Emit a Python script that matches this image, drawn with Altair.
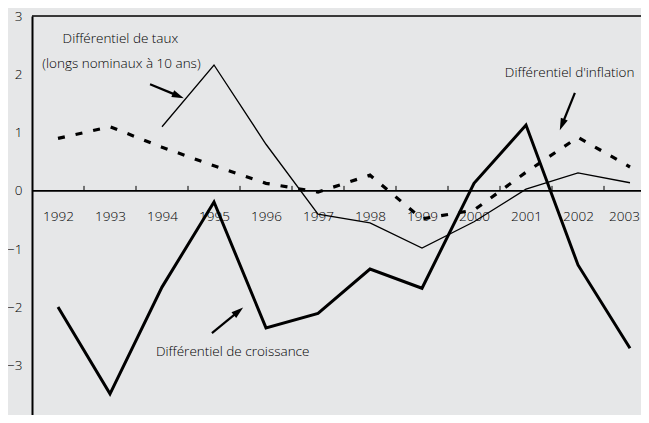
import math
import altair as alt
import pandas as pd

# ---------------- data ----------------
years = list(range(1992, 2004))
croissance = [-1.99, -3.48, -1.65, -0.19, -2.35, -2.10, -1.34, -1.67, 0.13, 1.13, -1.27, -2.70]
inflation = [0.90, 1.10, 0.75, 0.43, 0.13, -0.02, 0.27, -0.48, -0.33, 0.32, 0.92, 0.41]
taux = [None, None, 1.10, 2.16, 0.80, -0.40, -0.55, -0.98, -0.53, 0.03, 0.31, 0.14]
y_ticks = list(range(-4, 4))

label_text = ["Différentiel de taux", "(longs nominaux à 10 ans)",
              "Différentiel d'inflation", "Différentiel de croissance"]
label_x = [1993.20, 1993.22, 2001.84, 1995.36]
label_y = [2.53, 2.11, 1.955, -2.835]

arrow_x1 = [1993.77, 2001.94, 1994.96]
arrow_y1 = [1.83, 1.68, -2.44]
arrow_x2 = [1994.42, 2001.65, 1995.56]
arrow_y2 = [1.59, 1.04, -2.00]

# ---------------- layout ----------------
PX_YR = 52.0
PX_U = 58.3
W, H = 609, 399
FONT = "Open Sans"
FS = 13.5
FW = 300
BG = "#e6e7e8"

x_scale = alt.Scale(domain=[1991.5, 2003.5], range=[0, 12 * PX_YR], nice=False, zero=False)
y_scale = alt.Scale(domain=[-4, 3], range=[7 * PX_U, 0], nice=False, zero=False)
zero_px = 3 * PX_U

def series_df(vals, name):
    return pd.DataFrame({"year": years, "value": vals, "serie": name}).dropna()

df_c = series_df(croissance, "croissance")
df_i = series_df(inflation, "inflation")
df_t = series_df(taux, "taux")

base_x = alt.X("year:Q", scale=x_scale,
               axis=alt.Axis(values=years, format="d", ticks=False, tickSize=0, domain=False,
                             grid=False, title=None, labelPadding=19, labelFontSize=FS,
                             labelFont=FONT, labelFontWeight=FW, labelColor="black",
                             labelOffset={"condition": {"test": "datum.value == 2003", "value": -6},
                                          "value": 0},
                             offset=zero_px - H, labelFlush=False, labelOverlap=False))
base_y = alt.Y("value:Q", scale=y_scale,
               axis=alt.Axis(values=y_ticks, format="d", ticks=False, tickSize=0, domain=True,
                             domainColor="black", domainWidth=2, grid=False, title=None,
                             labelPadding=10, labelFontSize=FS, labelFont=FONT,
                             labelFontWeight=FW, labelColor="black", labelFlush=False,
                             labelOverlap=False))

line_c = alt.Chart(df_c).mark_line(color="black", strokeWidth=3, strokeJoin="miter").encode(
    x=base_x, y=base_y)
line_i = alt.Chart(df_i).mark_line(color="black", strokeWidth=3.2, strokeDash=[7, 11]).encode(
    x=alt.X("year:Q", scale=x_scale), y=alt.Y("value:Q", scale=y_scale))
line_t = alt.Chart(df_t).mark_line(color="black", strokeWidth=1.3).encode(
    x=alt.X("year:Q", scale=x_scale), y=alt.Y("value:Q", scale=y_scale))

# zero line and top border
hlines = pd.DataFrame({"y": [0, 3], "x1": [1991.5, 1991.5], "x2": [2003.5, 2003.5]})
rules_h = alt.Chart(hlines).mark_rule(color="black", strokeWidth=1.6).encode(
    x=alt.X("x1:Q", scale=x_scale), x2="x2:Q", y=alt.Y("y:Q", scale=y_scale))

# ticks at category boundaries (pointing up from the zero line)
bounds = pd.DataFrame({"x": [y + 0.5 for y in years[:-1]]})
bounds["y1"] = 0.0
bounds["y2"] = 5.0 / PX_U
ticks = alt.Chart(bounds).mark_rule(color="black", strokeWidth=1).encode(
    x=alt.X("x:Q", scale=x_scale), y=alt.Y("y1:Q", scale=y_scale), y2="y2:Q")

# annotation texts
df_lab = pd.DataFrame({"x": label_x, "y": label_y, "t": label_text})
texts = alt.Chart(df_lab).mark_text(font=FONT, fontSize=FS, fontWeight=FW, color="black",
                                    align="center", baseline="alphabetic").encode(
    x=alt.X("x:Q", scale=x_scale), y=alt.Y("y:Q", scale=y_scale), text="t:N")

# arrows
rows_l, rows_h = [], []
HEAD = 12.0
for x1, y1, x2, y2 in zip(arrow_x1, arrow_y1, arrow_x2, arrow_y2):
    dx = (x2 - x1) * PX_YR
    dy = -(y2 - y1) * PX_U
    n = math.hypot(dx, dy)
    ux, uy = dx / n, dy / n
    ang = math.degrees(math.atan2(dx, -dy)) % 360
    cx = x2 - (HEAD / 2) * ux / PX_YR
    cy = y2 + (HEAD / 2) * uy / PX_U
    ex = x2 - (HEAD - 2) * ux / PX_YR
    ey = y2 + (HEAD - 2) * uy / PX_U
    rows_l.append({"x1": x1, "y1": y1, "x2": ex, "y2": ey})
    rows_h.append({"x": cx, "y": cy, "a": ang})
df_al = pd.DataFrame(rows_l)
df_ah = pd.DataFrame(rows_h)

arrow_lines = alt.Chart(df_al).mark_rule(color="black", strokeWidth=2.2).encode(
    x=alt.X("x1:Q", scale=x_scale), y=alt.Y("y1:Q", scale=y_scale), x2="x2:Q", y2="y2:Q")
arrow_heads = alt.Chart(df_ah).mark_point(
    shape="M0,-1L0.62,1L-0.62,1Z", filled=True, color="black", opacity=1, strokeWidth=0,
    size=HEAD * HEAD).encode(
    x=alt.X("x:Q", scale=x_scale), y=alt.Y("y:Q", scale=y_scale),
    angle=alt.Angle("a:Q", scale=None))

chart = alt.layer(
    line_c, rules_h, ticks, line_t, line_i, texts, arrow_lines, arrow_heads
).properties(
    width=W, height=H,
    autosize=alt.AutoSizeParams(type="none"),
    padding={"left": 24, "top": 8, "right": 0, "bottom": 0},
    background=BG,
).configure_view(stroke=None).configure(font=FONT)

chart.save("out.html", embed_options={"renderer": "svg", "actions": False})
